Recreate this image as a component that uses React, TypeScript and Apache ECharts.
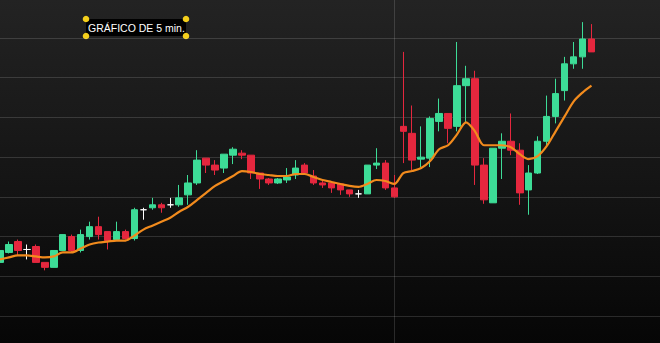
import React, { useEffect, useRef } from "react";
import * as echarts from "echarts";

// [open, close, low, high]
const candles: number[][] = [
  [20.54, 20.66, 20.53, 20.68],
  [20.64, 20.72, 20.63, 20.75],
  [20.75, 20.66, 20.61, 20.77],
  [20.67, 20.67, 20.57, 20.72],
  [20.70, 20.54, 20.54, 20.72],
  [20.54, 20.49, 20.46, 20.54],
  [20.49, 20.66, 20.49, 20.66],
  [20.66, 20.82, 20.66, 20.82],
  [20.80, 20.66, 20.64, 20.82],
  [20.66, 20.82, 20.64, 20.87],
  [20.80, 20.90, 20.77, 20.95],
  [20.90, 20.82, 20.77, 21.00],
  [20.85, 20.76, 20.67, 20.85],
  [20.77, 20.85, 20.77, 20.95],
  [20.85, 20.78, 20.77, 20.87],
  [20.78, 21.07, 20.76, 21.09],
  [21.07, 21.07, 20.97, 21.09],
  [21.09, 21.12, 21.07, 21.19],
  [21.12, 21.09, 21.04, 21.14],
  [21.12, 21.12, 21.09, 21.19],
  [21.12, 21.19, 21.10, 21.32],
  [21.22, 21.34, 21.12, 21.42],
  [21.34, 21.57, 21.32, 21.67],
  [21.59, 21.52, 21.44, 21.59],
  [21.52, 21.47, 21.42, 21.57],
  [21.49, 21.63, 21.44, 21.63],
  [21.62, 21.68, 21.53, 21.70],
  [21.64, 21.62, 21.58, 21.67],
  [21.62, 21.44, 21.38, 21.62],
  [21.44, 21.38, 21.28, 21.44],
  [21.38, 21.34, 21.32, 21.39],
  [21.34, 21.38, 21.33, 21.39],
  [21.37, 21.40, 21.34, 21.49],
  [21.42, 21.49, 21.38, 21.57],
  [21.52, 21.44, 21.42, 21.54],
  [21.41, 21.34, 21.32, 21.47],
  [21.34, 21.32, 21.29, 21.38],
  [21.34, 21.29, 21.24, 21.34],
  [21.33, 21.27, 21.22, 21.33],
  [21.27, 21.23, 21.20, 21.27],
  [21.23, 21.23, 21.19, 21.27],
  [21.23, 21.52, 21.23, 21.52],
  [21.52, 21.54, 21.48, 21.69],
  [21.54, 21.29, 21.27, 21.57],
  [21.29, 21.20, 21.19, 21.42],
  [21.91, 21.86, 21.54, 22.66],
  [21.84, 21.57, 21.47, 22.12],
  [21.58, 21.60, 21.50, 21.91],
  [21.59, 21.99, 21.50, 22.01],
  [21.96, 22.04, 21.86, 22.19],
  [22.04, 21.89, 21.74, 22.04],
  [21.91, 22.32, 21.86, 22.76],
  [22.32, 22.39, 21.95, 22.52],
  [22.39, 21.52, 21.32, 22.47],
  [21.52, 21.17, 21.13, 21.59],
  [21.14, 21.69, 21.14, 21.69],
  [21.69, 21.76, 21.38, 21.84],
  [21.76, 21.67, 21.62, 22.04],
  [21.67, 21.24, 21.12, 21.74],
  [21.27, 21.44, 21.02, 21.52],
  [21.44, 21.76, 21.43, 21.81],
  [21.76, 22.01, 21.72, 22.22],
  [22.01, 22.24, 21.94, 22.39],
  [22.27, 22.54, 22.17, 22.61],
  [22.54, 22.61, 22.49, 22.76],
  [22.61, 22.79, 22.49, 22.96],
  [22.79, 22.66, 22.66, 22.94],
];

const movingAverage: number[] = [
  20.57, 20.59, 20.61, 20.61, 20.60, 20.59, 20.60, 20.64, 20.64, 20.68,
  20.72, 20.74, 20.75, 20.76, 20.76, 20.81, 20.87, 20.91, 20.95, 20.99,
  21.05, 21.10, 21.17, 21.24, 21.31, 21.36, 21.41, 21.46, 21.45, 21.43,
  21.42, 21.41, 21.41, 21.43, 21.43, 21.40, 21.37, 21.35, 21.33, 21.31,
  21.30, 21.33, 21.37, 21.36, 21.33, 21.44, 21.46, 21.49, 21.56, 21.68,
  21.72, 21.83, 21.95, 21.86, 21.72, 21.72, 21.72, 21.70, 21.63, 21.58,
  21.61, 21.71, 21.86, 22.01, 22.16, 22.25, 22.32,
];

const SLOT_COUNT = 74;
const times: string[] = Array.from({ length: SLOT_COUNT }, (_, i) => {
  const m = 10 * 60 + i * 5;
  const h = Math.floor(m / 60) % 24;
  const mm = m % 60;
  return `${String(h).padStart(2, "0")}:${String(mm).padStart(2, "0")}`;
});

const priceMin = 20.0;
const priceMax = 22.8;
const priceStep = 0.4;
const separatorIndex = 44;
const titleText = "GRÁFICO DE 5 min.";

const UP = "#3ddc97";
const DOWN = "#e5273e";
const MA_COLOR = "#f28b1d";
const GRID_LINE = "rgba(255,255,255,0.14)";

export default function App() {
  const ref = useRef<HTMLDivElement>(null);
  useEffect(() => {
    if (!ref.current) return;
    const chart = echarts.init(ref.current, undefined, { renderer: "svg" });
    const dot = (x: number, y: number) => ({
      type: "circle",
      shape: { cx: x, cy: y, r: 3.3 },
      style: { fill: "#f4cf1c" },
    });
    const hidden = {
      axisLine: { show: false },
      axisTick: { show: false },
      axisLabel: { show: false },
    };
    const hiddenCat = { type: "category", data: times, boundaryGap: false, ...hidden };
    chart.setOption({
      animation: false,
      backgroundColor: "transparent",
      grid: [
        { left: 0, right: 5.8, top: 38, bottom: 27, containLabel: false },
        { left: 0, right: 0, top: 38, bottom: 27, containLabel: false },
        { left: 0, right: 5.8, top: 0, bottom: 0, containLabel: false },
      ],
      xAxis: [
        { ...hiddenCat, gridIndex: 0, splitLine: { show: false } },
        { type: "value", gridIndex: 1, min: 0, max: 1, ...hidden, splitLine: { show: false } },
        {
          ...hiddenCat,
          gridIndex: 2,
          splitLine: {
            show: true,
            interval: (idx: number) => idx === separatorIndex,
            lineStyle: { color: GRID_LINE, width: 1 },
          },
        },
      ],
      yAxis: [
        {
          type: "value",
          gridIndex: 0,
          min: priceMin,
          max: priceMax,
          interval: priceStep,
          ...hidden,
          splitLine: { show: false },
        },
        {
          type: "value",
          gridIndex: 1,
          min: priceMin,
          max: priceMax,
          interval: priceStep,
          ...hidden,
          splitLine: { show: true, lineStyle: { color: GRID_LINE, width: 1 } },
        },
        { type: "value", gridIndex: 2, min: 0, max: 1, ...hidden, splitLine: { show: false } },
      ],
      series: [
        {
          type: "candlestick",
          xAxisIndex: 0,
          yAxisIndex: 0,
          data: candles,
          barWidth: 7,
          clip: false,
          itemStyle: {
            color: UP,
            color0: DOWN,
            borderColor: UP,
            borderColor0: DOWN,
            borderColorDoji: "#ffffff",
            borderWidth: 1,
          },
          z: 2,
        },
        {
          type: "line",
          xAxisIndex: 0,
          yAxisIndex: 0,
          data: movingAverage,
          smooth: 0.3,
          clip: false,
          symbol: "none",
          lineStyle: { color: MA_COLOR, width: 2.2 },
          z: 3,
        },
      ],
      graphic: [
        {
          type: "group",
          children: [
            { type: "rect", shape: { x: 86, y: 19, width: 100, height: 17 }, style: { fill: "#000000" } },
            {
              type: "text",
              x: 88,
              y: 28,
              style: {
                text: titleText,
                fill: "#ffffff",
                font: "10.5px 'Liberation Sans', Arial, sans-serif",
                verticalAlign: "middle",
                align: "left",
              },
            },
            dot(86, 19),
            dot(186, 19),
            dot(86, 36),
            dot(186, 36),
          ],
        },
      ],
    });
    return () => chart.dispose();
  }, []);
  return (
    <div
      style={{
        position: "fixed",
        left: 0,
        top: 0,
        width: 660,
        height: 343,
        background: "linear-gradient(to bottom, #232323 0%, #141414 55%, #060606 100%)",
      }}
    >
      <div ref={ref} style={{ width: 660, height: 343 }} />
    </div>
  );
}
